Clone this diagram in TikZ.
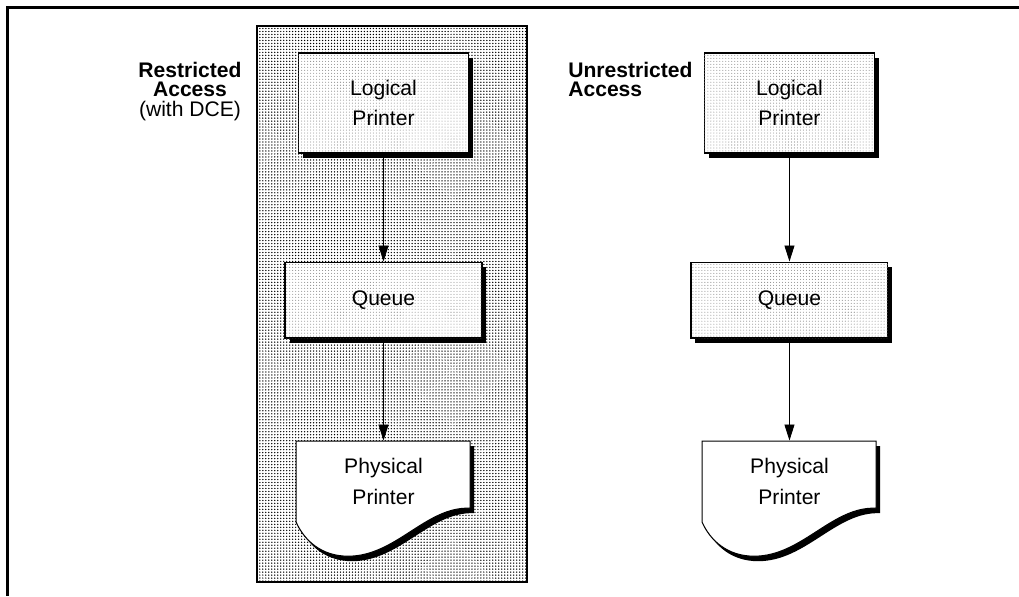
\documentclass[tikz,border=0pt]{standalone}
\usepackage{fontspec}
\setmainfont{Liberation Sans}
\usetikzlibrary{positioning,arrows.meta,shadows,patterns.meta,backgrounds}

\begin{document}
\begin{tikzpicture}[x={(0.02cm,0)}, y={(0,-0.02cm)},
        box/.style={rectangle, draw, line width=0.6pt, fill=white, align=center, inner sep=0pt,
            font=\fontsize{12}{17.5}\selectfont,
            postaction={pattern={Dots[distance=1.7pt,radius=.3pt]}, pattern color=black!45},
            drop shadow={shadow xshift=0.09cm, shadow yshift=-0.1cm, fill=black, opacity=1}},
        printer/.style={rectangle, align=center, inner sep=0pt, minimum width=3.48cm,
            minimum height=1.62cm, font=\fontsize{12}{17.5}\selectfont},
        access/.style={inner sep=0pt, font=\fontsize{12}{11}\selectfont\bfseries},
        link/.style={-{Triangle[length=0.32cm,width=0.2cm]}, line width=0.5pt}]
        \useasboundingbox (0,0) rectangle (1019,596);
        \draw[line width=0.06cm] (1019,7.5) -- (7.5,7.5) -- (7.5,596);

        \node[box, minimum width=3.4cm, minimum height=2cm] (lp1) at (383.5,103) {Logical\\Printer};
        \node[box, minimum width=3.94cm, minimum height=1.52cm] (q1) [below=2.16cm of lp1] {Queue};
        \node[printer] (pp1) [below=2.04cm of q1] {Physical\\Printer};
        \node[box, minimum width=3.4cm, minimum height=2cm] (lp2) [right=4.7cm of lp1] {Logical\\Printer};
        \node[box, minimum width=3.94cm, minimum height=1.52cm] (q2) [below=2.16cm of lp2] {Queue};
        \node[printer] (pp2) [below=2.04cm of q2] {Physical\\Printer};

        \node[access, align=center, anchor=north] (restricted) at (190,62) {Restricted\\Access\\{\mdseries(with DCE)}};
        \node[access, align=left, anchor=north west] (unrestricted) at (568,62) {Unrestricted\\Access};

        \draw[link] (lp1) -- (q1);
        \draw[link] (q1) -- (pp1);
        \draw[link] (lp2) -- (q2);
        \draw[link] (q2) -- (pp2);

        \begin{scope}[on background layer]
            \draw[line width=0.6pt, pattern={Dots[distance=1.7pt,radius=.42pt]}] (257,26) rectangle (527,582);
            \foreach \p in {pp1,pp2} {
                \begin{scope}[shift={(\p.south west)}]
                    \fill[shift={(4,5)}] (0,0) -- (0,-81) -- (174,-81) -- (174,-14)
                        .. controls (130,-16) and (100,34) .. (52,34)
                        .. controls (25,34) and (8,18) .. cycle;
                    \draw[fill=white, line width=0.6pt] (0,0) -- (0,-81) -- (174,-81) -- (174,-14)
                        .. controls (130,-16) and (100,34) .. (52,34)
                        .. controls (25,34) and (8,18) .. cycle;
                \end{scope}
            }
        \end{scope}
    \end{tikzpicture}
\end{document}
